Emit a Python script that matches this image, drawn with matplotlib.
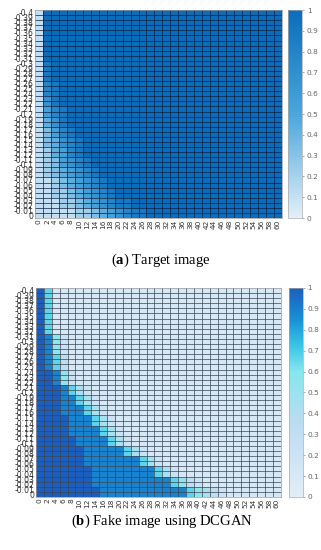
import numpy as np
import matplotlib
matplotlib.use("Agg")
import matplotlib.pyplot as plt
from matplotlib.colors import LinearSegmentedColormap

plt.rcParams["mathtext.fontset"] = "custom"
plt.rcParams["mathtext.bf"] = "Liberation Serif:bold"
plt.rcParams["mathtext.rm"] = "Liberation Serif"

# axis categories
x_labels = [str(v) for v in range(0, 61, 2)]
y_labels = ["-0.4"] + ["%g" % (-v / 100) for v in range(39, 0, -1)] + ["0"]

# cell values, one string per row (top row = -0.4),
# one digit per column, value = digit / 9; missing tail = background level
target_rows = (
    ["1"] * 10
    + ["18"] * 4
    + ["178"] * 3
    + ["168"] * 2
    + ["1578"] * 2
    + ["1468"] * 2
    + ["13578"] * 2
    + ["134678"] * 2
    + ["124578"] * 2
    + ["1235678"] * 2
    + ["12345678"] * 2
    + ["112345678"] * 2
    + ["1122345678"] * 2
    + ["111223456788"] * 2
    + ["11111223456788"] * 2
)
fake_rows = (
    ["961"] * 9
    + ["9852"] * 4
    + ["98631"] * 3
    + ["99852"] * 3
    + ["9998642"] * 2
    + ["99988642"] * 2
    + ["999888642"] * 2
    + ["9999888642"] * 2
    + ["99998888642"] * 2
    + ["999998888642"] * 2
    + ["99999988888642"] * 2
    + ["9999998888888642"] * 2
    + ["9999999888888886421"] * 2
    + ["9999999888888888865321"] * 2
    + ["9999999988888888888654321"] * 2
)


def to_matrix(rows, fill):
    return np.array([[int(c) / 9 for c in r.ljust(len(x_labels), fill)] for r in rows])


target = to_matrix(target_rows, "9")
fake = to_matrix(fake_rows, "1")

cmap_a = LinearSegmentedColormap.from_list(
    "a", [(0, "#e4eff9"), (0.5, "#4aa6dc"), (1, "#0a6dbc")])
cmap_b = LinearSegmentedColormap.from_list(
    "b", [(0, "#e2edf8"), (0.35, "#bcdcf0"), (0.6, "#86e6ee"),
          (0.72, "#3cc6e6"), (0.85, "#1990d6"), (1, "#1c5ebf")])

fig = plt.figure(figsize=(3.21, 5.50), dpi=100)


def heat(rect, crect, data, cmap, grid):
    ax = fig.add_axes(rect)
    m = ax.pcolormesh(data, cmap=cmap, vmin=0, vmax=1)
    ny, nx = data.shape
    ax.set_xlim(0, nx)
    ax.set_ylim(ny, 0)
    ax.set_xticks(np.arange(nx) + 0.5)
    ax.set_xticklabels(x_labels, rotation=90, fontsize=5.3, color="#333333")
    ax.set_yticks(np.arange(ny) + 0.5)
    ax.set_yticklabels(y_labels, fontsize=5.6, color="#333333")
    ax.set_xticks(np.arange(1, nx), minor=True)
    ax.set_yticks(np.arange(1, ny), minor=True)
    ax.grid(which="minor", color=grid, linewidth=0.5)
    ax.tick_params(which="both", length=0, pad=1)
    for s in ax.spines.values():
        s.set_color("#999999")
        s.set_linewidth(0.5)
    cax = fig.add_axes(crect)
    cb = fig.colorbar(m, cax=cax, ticks=np.linspace(0, 1, 11))
    cb.ax.set_yticklabels(["0", "0.1", "0.2", "0.3", "0.4", "0.5",
                           "0.6", "0.7", "0.8", "0.9", "1"])
    cb.ax.tick_params(labelsize=5.3, length=1.5, width=0.4,
                      colors="#666666", pad=2)
    cb.outline.set_edgecolor("#aaaaaa")
    cb.outline.set_linewidth(0.5)


heat([0.109, 0.6036, 0.769, 0.378], [0.897, 0.6036, 0.044, 0.378],
     target, cmap_a, (0.05, 0.12, 0.25, 0.45))
heat([0.112, 0.0964, 0.763, 0.380], [0.899, 0.0964, 0.044, 0.380],
     fake, cmap_b, (0.22, 0.27, 0.33, 0.55))

fig.text(0.50, 0.527, r"($\mathbf{a}$) Target image", ha="center", va="center",
         fontsize=10.5, family="Liberation Serif")
fig.text(0.505, 0.053, r"($\mathbf{b}$) Fake image using DCGAN", ha="center",
         va="center", fontsize=10.5, family="Liberation Serif")

fig.savefig("out.png", dpi=100)
